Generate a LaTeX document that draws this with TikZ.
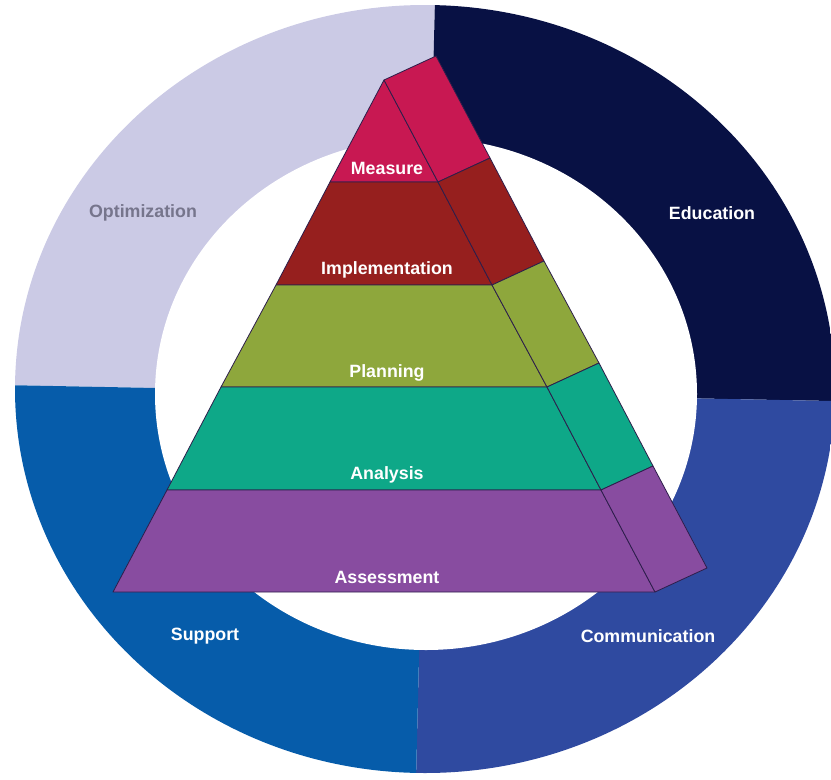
\documentclass[tikz,border=0pt]{standalone}
\usepackage{fontspec}
\setmainfont{Liberation Sans}

\definecolor{optc}{RGB}{203,202,229}
\definecolor{educ}{RGB}{8,17,68}
\definecolor{commc}{RGB}{47,74,160}
\definecolor{suppc}{RGB}{6,92,170}
\definecolor{measc}{RGB}{200,24,82}
\definecolor{implc}{RGB}{150,31,30}
\definecolor{planc}{RGB}{142,167,60}
\definecolor{anac}{RGB}{14,168,136}
\definecolor{assc}{RGB}{136,76,160}
\definecolor{edgec}{RGB}{45,30,75}
\definecolor{greytext}{RGB}{118,117,140}

\tikzset{
  layer/.style={draw=edgec, line width=0.8pt, line join=round},
  lbl/.style={font=\bfseries\fontsize{17.8}{20}\selectfont, text=white, inner sep=1pt}
}

\begin{document}
\begin{tikzpicture}[x=1pt, y=-1pt]
            \useasboundingbox (0,0) rectangle (831,780);

            % ring
            \coordinate (C) at (425.4,393.2);
            \coordinate (L) at (-50,384);
            \coordinate (T) at (436.2,-50);
            \coordinate (R) at (900,402.3);
            \coordinate (B) at (414.3,850);
            \begin{scope}
                \clip (0,0) rectangle (831,780);
                \clip (425,389) ellipse [x radius=410, y radius=384];
                \fill[optc] (C) -- (L) -- (-50,-50) -- (T) -- cycle;
                \fill[educ] (C) -- (T) -- (900,-50) -- (R) -- cycle;
                \fill[commc] (C) -- (R) -- (900,850) -- (B) -- cycle;
                \fill[suppc] (C) -- (B) -- (-50,850) -- (L) -- cycle;
                \fill[white] (426,394) ellipse [x radius=271, y radius=256];
            \end{scope}

            \node[lbl, text=greytext] (optimization) at (143,213) {Optimization};
            \node[lbl] (education) at (712,213) {Education};
            \node[lbl] (support) at (205,636) {Support};
            \node[lbl] (communication) at (648,636) {Communication};

            % pyramid corners
            \coordinate (a) at (384,80);
            \coordinate (l1) at (330,182);  \coordinate (r1) at (438,182);
            \coordinate (l2) at (276,285);  \coordinate (r2) at (492,285);
            \coordinate (l3) at (221,387);  \coordinate (r3) at (547,387);
            \coordinate (l4) at (167,490);  \coordinate (r4) at (601,490);
            \coordinate (l5) at (113,592);  \coordinate (r5) at (655,592);
            \coordinate (s0) at (436,56);
            \coordinate (s1) at (490,158);
            \coordinate (s2) at (544,261);
            \coordinate (s3) at (599,363);
            \coordinate (s4) at (653,466);
            \coordinate (s5) at (707,568);

            % front faces
            \filldraw[layer, fill=measc] (a) -- (r1) -- (l1) -- cycle;
            \filldraw[layer, fill=implc] (l1) -- (r1) -- (r2) -- (l2) -- cycle;
            \filldraw[layer, fill=planc] (l2) -- (r2) -- (r3) -- (l3) -- cycle;
            \filldraw[layer, fill=anac] (l3) -- (r3) -- (r4) -- (l4) -- cycle;
            \filldraw[layer, fill=assc] (l4) -- (r4) -- (r5) -- (l5) -- cycle;

            % side faces
            \filldraw[layer, fill=measc] (a) -- (s0) -- (s1) -- (r1) -- cycle;
            \filldraw[layer, fill=implc] (r1) -- (s1) -- (s2) -- (r2) -- cycle;
            \filldraw[layer, fill=planc] (r2) -- (s2) -- (s3) -- (r3) -- cycle;
            \filldraw[layer, fill=anac] (r3) -- (s3) -- (s4) -- (r4) -- cycle;
            \filldraw[layer, fill=assc] (r4) -- (s4) -- (s5) -- (r5) -- cycle;

            \node[lbl] (measure) at (387,168) {Measure};
            \node[lbl] (implementation) at (387,270) {Implementation};
            \node[lbl] (planning) at (387,373) {Planning};
            \node[lbl] (analysis) at (387,475) {Analysis};
            \node[lbl] (assessment) at (387,577) {Assessment};
        \end{tikzpicture}
\end{document}
